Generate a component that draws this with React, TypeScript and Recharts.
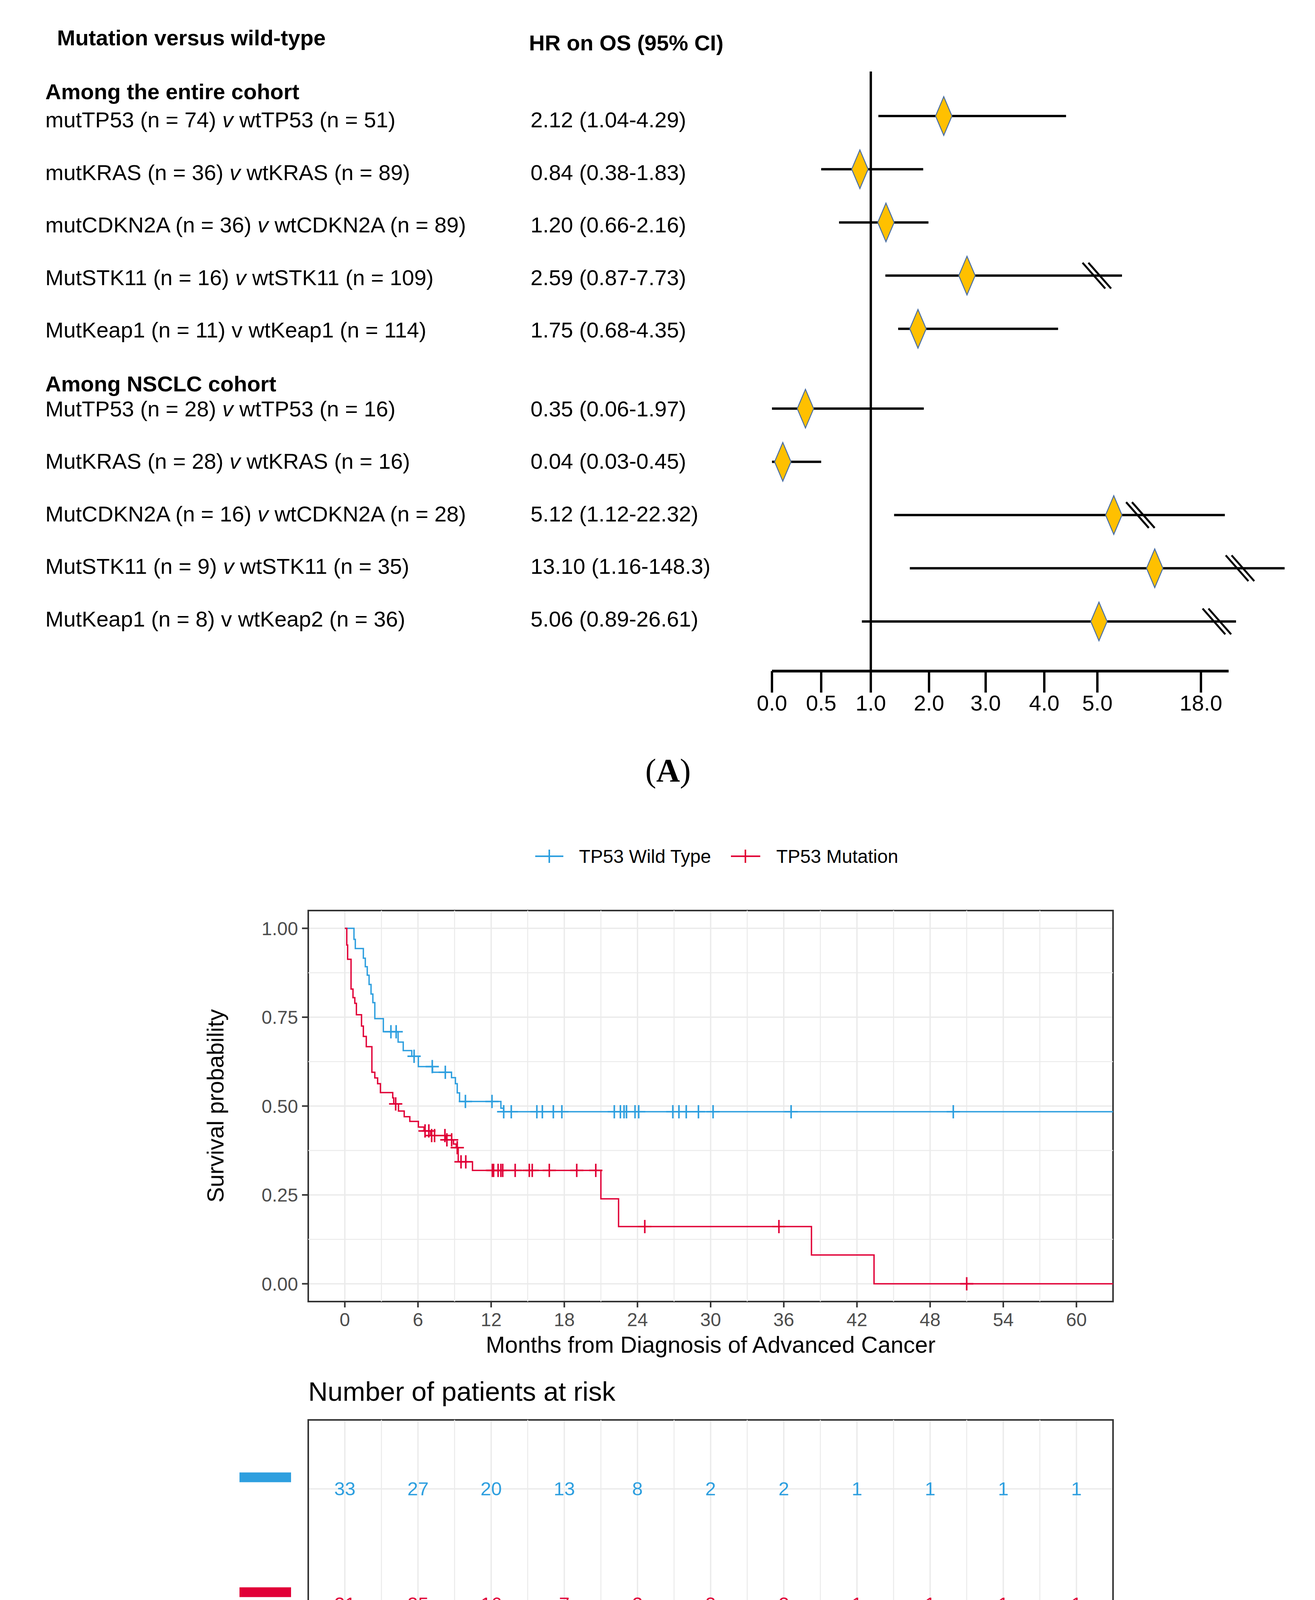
import React from 'react';
import {
  ComposedChart,
  ScatterChart,
  Scatter,
  Line,
  XAxis,
  YAxis,
  CartesianGrid,
  ReferenceLine,
  ReferenceArea,
} from 'recharts';

const FONT = "'Liberation Sans', Arial, Helvetica, sans-serif";
const SERIF = "'Liberation Serif', 'Times New Roman', serif";
const BLUE = '#2E9FDF';
const RED = '#E10037';
const GOLD = '#FFC000';
const DIAMOND_EDGE = '#4A6FA5';

// ---------------- Panel A (forest, entire + NSCLC cohort) ----------------
const panelAMut = [
  'mutTP53 (n = 74)', 'mutKRAS (n = 36)', 'mutCDKN2A (n = 36)', 'MutSTK11 (n = 16)', 'MutKeap1 (n = 11)',
  'MutTP53 (n = 28)', 'MutKRAS (n = 28)', 'MutCDKN2A (n = 16)', 'MutSTK11 (n = 9)', 'MutKeap1 (n = 8)',
];
const panelAWt = [
  'wtTP53 (n = 51)', 'wtKRAS (n = 89)', 'wtCDKN2A (n = 89)', 'wtSTK11 (n = 109)', 'wtKeap1 (n = 114)',
  'wtTP53 (n = 16)', 'wtKRAS (n = 16)', 'wtCDKN2A (n = 28)', 'wtSTK11 (n = 35)', 'wtKeap2 (n = 36)',
];
const panelAItalicV = [true, true, true, true, false, true, true, true, true, false];
const panelAValues = [
  '2.12 (1.04-4.29)', '0.84 (0.38-1.83)', '1.20 (0.66-2.16)', '2.59 (0.87-7.73)', '1.75 (0.68-4.35)',
  '0.35 (0.06-1.97)', '0.04 (0.03-0.45)', '5.12 (1.12-22.32)', '13.10 (1.16-148.3)', '5.06 (0.89-26.61)',
];
// HR, lower and upper ends as drawn in the figure
const panelAHr = [2.26, 0.89, 1.26, 2.67, 1.81, 0.34, 0.11, 7.06, 12.2, 5.2];
const panelALow = [1.13, 0.5, 0.68, 1.25, 1.47, 0.0, 0.0, 1.4, 1.67, 0.91];
const panelAHigh = [4.41, 1.9, 1.99, 8.09, 4.26, 1.91, 0.5, 21.0, 28.5, 22.4];
const panelABreak: (number | null)[] = [null, null, null, 4.99, null, null, null, 10.4, 22.9, 20.0];
const panelAGroups = [5, 5];
const panelATicks = [0, 0.5, 1, 2, 3, 4, 5, 18];
const panelATickLabels = ['0.0', '0.5', '1.0', '2.0', '3.0', '4.0', '5.0', '18.0'];
const panelATickPos = [0, 0.498, 1, 1.589, 2.162, 2.755, 3.292, 4.34];

// ---------------- Panel C (forest) ----------------
const panelCMut = ['mutTP53 (n = 24)', 'mutKRAS (n = 13)', 'mutCDKN2A (n = 14)', 'MutSTK11 (n = 7)'];
const panelCWt = ['wtTP53 (n = 25)', 'wtKRAS (n = 36)', 'wtCDKN2A (n = 35)', 'wtSTK11 (n = 42)'];
const panelCItalicV = [true, true, true, true];
const panelCValues = ['3.98 (1.14-13.91)', '1.40 (0.31-9.36)', '2.09 (0.57-7.61)', '0.55 (0.08-3.55)'];
const panelCHr = [3.69, 1.72, 2.19, 0.626];
const panelCLow = [1.25, 0.454, 0.607, 0.107];
const panelCHigh = [12.95, 9.25, 9.32, 3.49];
const panelCBreak: (number | null)[] = [10.24, 5.49, 5.69, null];
const panelCTicks = [0, 0.5, 1, 2, 3, 4, 5, 14];
const panelCTickLabels = ['0.0', '0.5', '1.0', '2.0', '3.0', '4.0', '5.0', '14.0'];
const panelCTickPos = [0, 0.489, 1, 1.584, 2.164, 2.748, 3.286, 4.336];

// ---------------- Panel B (Kaplan-Meier) ----------------
const kmXTicks = [0, 6, 12, 18, 24, 30, 36, 42, 48, 54, 60];
const kmXMinor = [3, 9, 15, 21, 27, 33, 39, 45, 51, 57];
const kmYTicks = [0, 0.25, 0.5, 0.75, 1];
const kmYMinor = [0.125, 0.375, 0.625, 0.875];

const wtTimes = [0, 0.75, 0.86, 1.52, 1.68, 1.84, 1.99, 2.15, 2.3, 2.46, 3.16, 4.37, 4.79, 5.49, 6.03, 7.2, 8.75, 9.07, 9.22, 9.41, 12.8, 13.03, 63];
const wtSurv = [1, 0.969, 0.943, 0.916, 0.892, 0.868, 0.842, 0.815, 0.791, 0.746, 0.709, 0.68, 0.656, 0.64, 0.611, 0.595, 0.58, 0.563, 0.537, 0.513, 0.494, 0.484, 0.484];
const wtCensor = [3.78, 4.21, 5.68, 7.17, 8.24, 9.89, 12.07, 13.03, 13.65, 15.75, 16.2, 17.1, 17.8, 22.1, 22.6, 22.9, 23.1, 23.8, 24.1, 26.9, 27.4, 28.0, 29.0, 30.2, 36.6, 49.9];

const mutTimes = [0, 0.16, 0.23, 0.51, 0.67, 0.82, 0.95, 1.37, 1.52, 1.76, 2.22, 2.46, 2.69, 2.92, 3.93, 4.01, 4.4, 4.87, 5.33, 6.03, 6.5, 7.04, 8.29, 8.91, 9.14, 9.3, 10.47, 21.0, 22.45, 38.27, 43.4, 63];
const mutSurv = [1, 0.953, 0.913, 0.829, 0.805, 0.789, 0.757, 0.725, 0.696, 0.667, 0.595, 0.579, 0.563, 0.538, 0.523, 0.506, 0.486, 0.47, 0.457, 0.441, 0.43, 0.417, 0.405, 0.393, 0.383, 0.343, 0.319, 0.239, 0.161, 0.081, 0, 0];
const mutCensor = [4.17, 6.58, 6.89, 7.12, 7.36, 8.21, 8.37, 8.76, 9.22, 9.53, 9.92, 12.1, 12.2, 12.57, 12.8, 12.95, 13.97, 15.13, 15.37, 16.77, 19.02, 20.58, 24.6, 35.6, 51.0];

const riskTimes = [0, 6, 12, 18, 24, 30, 36, 42, 48, 54, 60];
const riskWt = [33, 27, 20, 13, 8, 2, 2, 1, 1, 1, 1];
const riskMut = [21, 35, 16, 7, 2, 3, 2, 1, 1, 1, 1];

// ---------------- helpers ----------------
function toPos(v: number, ticks: number[], pos: number[]) {
  for (let i = 0; i < ticks.length - 1; i++) {
    if (v <= ticks[i + 1]) {
      const f = (v - ticks[i]) / (ticks[i + 1] - ticks[i]);
      return pos[i] + f * (pos[i + 1] - pos[i]);
    }
  }
  const n = ticks.length - 1;
  const slope = (pos[n] - pos[n - 1]) / (ticks[n] - ticks[n - 1]);
  return pos[n] + (v - ticks[n]) * slope;
}

function rowPositions(groups: number[]) {
  const out: number[] = [];
  let offset = 0;
  groups.forEach((g, gi) => {
    for (let k = 0; k < g; k++) out.push(out.length + offset);
    if (gi < groups.length - 1) offset += 0.5;
  });
  return out;
}

function survAt(times: number[], surv: number[], t: number) {
  let s = surv[0];
  for (let i = 0; i < times.length; i++) if (times[i] <= t) s = surv[i];
  return s;
}

const Empty = () => <g />;

const makeDiamond = (w: number, h: number) => (props: any) => {
  const { cx, cy } = props;
  if (cx == null || cy == null) return <g />;
  const pts = `${cx},${cy - h / 2} ${cx + w / 2},${cy} ${cx},${cy + h / 2} ${cx - w / 2},${cy}`;
  return <polygon points={pts} fill={GOLD} stroke={DIAMOND_EDGE} strokeWidth={2.5} />;
};

const makeBreak = (w: number, h: number, gap: number) => (props: any) => {
  const { cx, cy } = props;
  if (cx == null || cy == null) return <g />;
  return (
    <g>
      {[-gap / 2, gap / 2].map((o, i) => (
        <line key={i} x1={cx + o - w / 2} y1={cy - h / 2} x2={cx + o + w / 2} y2={cy + h / 2} stroke="#000" strokeWidth={5} />
      ))}
    </g>
  );
};

const makePlus = (color: string) => (props: any) => {
  const { cx, cy } = props;
  if (cx == null || cy == null) return <g />;
  return (
    <g>
      <line x1={cx - 17} x2={cx + 17} y1={cy} y2={cy} stroke={color} strokeWidth={4} />
      <line x1={cx} x2={cx} y1={cy - 17} y2={cy + 17} stroke={color} strokeWidth={4} />
    </g>
  );
};

const makeRiskText = (color: string) => (props: any) => {
  const { cx, cy, payload } = props;
  if (cx == null || cy == null) return <g />;
  return (
    <text x={cx} y={cy} textAnchor="middle" dominantBaseline="central" fontSize={49} fontFamily={FONT} fill={color}>
      {payload.n}
    </text>
  );
};

// ---------------- Forest plot ----------------
type ForestProps = {
  top: number;
  width: number;
  height: number;
  margin: { top: number; left: number; right: number; bottom: number };
  xMax: number;
  yDom: [number, number];
  axisEnd: number;
  hr: number[];
  low: number[];
  high: number[];
  brk: (number | null)[];
  rowPos: number[];
  ticks: number[];
  tickPos: number[];
  tickLabels: string[];
  tickSize: number;
  labelDy: number;
  xAxisHeight: number;
  diamond: [number, number];
  brkShape: [number, number, number];
};

function ForestPlot(p: ForestProps) {
  const rows = p.hr.map((h, i) => ({
    i,
    y: p.rowPos[i],
    hr: toPos(h, p.ticks, p.tickPos),
    lo: toPos(p.low[i], p.ticks, p.tickPos),
    hi: toPos(p.high[i], p.ticks, p.tickPos),
    br: p.brk[i] == null ? null : toPos(p.brk[i] as number, p.ticks, p.tickPos),
  }));
  const ForestTick = (tp: any) => {
    const idx = p.tickPos.findIndex((v) => Math.abs(v - tp.payload.value) < 1e-6);
    return (
      <text x={tp.x} y={tp.y + p.labelDy} textAnchor="middle" fontSize={56} fontFamily={FONT} fill="#000">
        {idx >= 0 ? p.tickLabels[idx] : ''}
      </text>
    );
  };
  const diamond = makeDiamond(p.diamond[0], p.diamond[1]);
  const brkShape = makeBreak(p.brkShape[0], p.brkShape[1], p.brkShape[2]);
  return (
    <div style={{ position: 'absolute', left: 0, top: p.top }}>
      <ScatterChart width={p.width} height={p.height} margin={p.margin}>
        <XAxis
          type="number"
          dataKey="x"
          domain={[0, p.xMax]}
          allowDataOverflow
          ticks={p.tickPos}
          interval={0}
          tickSize={p.tickSize}
          tickMargin={0}
          axisLine={false}
          stroke="#000"
          tickLine={{ stroke: '#000', strokeWidth: 6 }}
          height={p.xAxisHeight}
          tick={<ForestTick />}
        />
        <YAxis type="number" dataKey="y" domain={p.yDom} allowDataOverflow reversed hide />
        <ReferenceLine x={1} stroke="#000" strokeWidth={6} ifOverflow="visible" />
        <ReferenceLine
          segment={[{ x: 0, y: p.yDom[1] }, { x: p.axisEnd, y: p.yDom[1] }]}
          stroke="#000"
          strokeWidth={7}
          ifOverflow="visible"
        />
        {rows.map((r) => (
          <Scatter
            key={'ci' + r.i}
            data={[{ x: r.lo, y: r.y }, { x: r.hi, y: r.y }]}
            line={{ stroke: '#000', strokeWidth: 6 }}
            shape={Empty}
            isAnimationActive={false}
          />
        ))}
        <Scatter
          data={rows.filter((r) => r.br != null).map((r) => ({ x: r.br, y: r.y }))}
          shape={brkShape}
          isAnimationActive={false}
        />
        <Scatter data={rows.map((r) => ({ x: r.hr, y: r.y }))} shape={diamond} isAnimationActive={false} />
      </ScatterChart>
    </div>
  );
}

function RowLabel({ x, y, size, mut, wt, italic }: any) {
  return (
    <text x={x} y={y} fontSize={size} fontFamily={FONT} fill="#000" style={{ whiteSpace: 'pre' }}>
      {mut + ' '}
      <tspan fontStyle={italic ? 'italic' : 'normal'}>v</tspan>
      {' ' + wt}
    </text>
  );
}

// ---------------- App ----------------
export default function App() {
  const rowPosA = rowPositions(panelAGroups);
  const rowPosC = rowPositions([4]);

  const wtData = wtTimes.map((t, i) => ({ t, s: wtSurv[i] }));
  const mutData = mutTimes.map((t, i) => ({ t, s: mutSurv[i] }));
  const wtCensorData = wtCensor.map((t) => ({ t, s: survAt(wtTimes, wtSurv, t) }));
  const mutCensorData = mutCensor.map((t) => ({ t, s: survAt(mutTimes, mutSurv, t) }));
  const riskWtData = riskTimes.map((t, i) => ({ t, row: 2, n: riskWt[i] }));
  const riskMutData = riskTimes.map((t, i) => ({ t, row: 1, n: riskMut[i] }));

  const kmTick = { fill: '#4D4D4D', fontSize: 48, fontFamily: FONT };
  const kmTickLine = { stroke: '#333333', strokeWidth: 4 };

  const RiskYTick = (tp: any) => (
    <rect x={tp.x - 176} y={tp.y - 42} width={132} height={25} fill={tp.payload.value === 2 ? BLUE : RED} />
  );

  const textCenterA = (pos: number) => 308 + 134.5 * pos;
  const textCenterC = (i: number) => 4806 + 141 * i;

  return (
    <div style={{ position: 'absolute', left: 0, top: 0, width: 3366, height: 5641, background: '#fff' }}>
      <svg width={3366} height={5641} style={{ position: 'absolute', left: 0, top: 0 }}>
        {/* Panel A text */}
        <text x={146} y={116} fontSize={56} fontWeight="bold" fontFamily={FONT}>Mutation versus wild-type</text>
        <text x={1354} y={129} fontSize={56} fontWeight="bold" fontFamily={FONT}>HR on OS (95% CI)</text>
        <text x={116} y={254} fontSize={56} fontWeight="bold" fontFamily={FONT}>Among the entire cohort</text>
        <text x={116} y={1002} fontSize={56} fontWeight="bold" fontFamily={FONT}>Among NSCLC cohort</text>
        {panelAMut.map((m, i) => (
          <RowLabel key={'al' + i} x={116} y={textCenterA(rowPosA[i]) + 18} size={56} mut={m} wt={panelAWt[i]} italic={panelAItalicV[i]} />
        ))}
        {panelAValues.map((v, i) => (
          <text key={'av' + i} x={1358} y={textCenterA(rowPosA[i]) + 18} fontSize={56} fontFamily={FONT}>{v}</text>
        ))}
        <text x={1710} y={2001} fontSize={84} fontFamily={SERIF} textAnchor="middle">(<tspan fontWeight="bold">A</tspan>)</text>

        {/* Panel B text */}
        <line x1={1370} x2={1442} y1={2192} y2={2192} stroke={BLUE} strokeWidth={4} />
        <line x1={1406} x2={1406} y1={2175} y2={2209} stroke={BLUE} strokeWidth={4} />
        <text x={1482} y={2209} fontSize={48} fontFamily={FONT}>TP53 Wild Type</text>
        <line x1={1871} x2={1946} y1={2192} y2={2192} stroke={RED} strokeWidth={4} />
        <line x1={1908} x2={1908} y1={2175} y2={2209} stroke={RED} strokeWidth={4} />
        <text x={1987} y={2209} fontSize={48} fontFamily={FONT}>TP53 Mutation</text>
        <text x={552} y={2831} fontSize={59} fontFamily={FONT} textAnchor="middle" dominantBaseline="central" transform="rotate(-90, 552, 2831)">
          Survival probability
        </text>
        <text x={1819} y={3463} fontSize={59} fontFamily={FONT} textAnchor="middle">Months from Diagnosis of Advanced Cancer</text>
        <text x={789} y={3586} fontSize={69} fontFamily={FONT}>Number of patients at risk</text>
        <text x={1819} y={4413} fontSize={59} fontFamily={FONT} textAnchor="middle">Months from Diagnosis of Advanced Cancer</text>
        <text x={1710} y={4582} fontSize={84} fontFamily={SERIF} textAnchor="middle">(<tspan fontWeight="bold">B</tspan>)</text>

        {/* Panel C text */}
        <text x={163} y={4684} fontSize={58.5} fontWeight="bold" fontFamily={FONT}>Mutation versus wild-type</text>
        <text x={1419} y={4694} fontSize={58.5} fontWeight="bold" fontFamily={FONT}>HR on OS (95% CI)</text>
        {panelCMut.map((m, i) => (
          <RowLabel key={'cl' + i} x={131} y={textCenterC(i) + 19} size={58.5} mut={m} wt={panelCWt[i]} italic={panelCItalicV[i]} />
        ))}
        {panelCValues.map((v, i) => (
          <text key={'cv' + i} x={1419} y={textCenterC(i) + 19} fontSize={58.5} fontFamily={FONT}>{v}</text>
        ))}
        <text x={1710} y={5582} fontSize={84} fontFamily={SERIF} textAnchor="middle">(<tspan fontWeight="bold">C</tspan>)</text>
      </svg>

      {/* Panel A forest */}
      <ForestPlot
        top={0}
        width={3366}
        height={1900}
        margin={{ top: 183, left: 1976, right: 66, bottom: 32 }}
        xMax={5.233}
        yDom={[-0.837, 10.433]}
        axisEnd={4.62}
        hr={panelAHr}
        low={panelALow}
        high={panelAHigh}
        brk={panelABreak}
        rowPos={rowPosA}
        ticks={panelATicks}
        tickPos={panelATickPos}
        tickLabels={panelATickLabels}
        tickSize={55}
        labelDy={46}
        xAxisHeight={150}
        diamond={[42, 99]}
        brkShape={[58, 66, 15]}
      />

      {/* Panel B: KM curves */}
      <div style={{ position: 'absolute', left: 0, top: 2100 }}>
        <ComposedChart width={2900} height={1400} margin={{ top: 231, right: 51, left: 0, bottom: 68 }}>
          <CartesianGrid stroke="#EBEBEB" strokeWidth={3.5} />
          {kmXMinor.map((x) => (
            <ReferenceLine key={'kx' + x} x={x} stroke="#EBEBEB" strokeWidth={2.5} />
          ))}
          {kmYMinor.map((y) => (
            <ReferenceLine key={'ky' + y} y={y} stroke="#EBEBEB" strokeWidth={2.5} />
          ))}
          <XAxis type="number" dataKey="t" domain={[-3, 63]} allowDataOverflow ticks={kmXTicks} interval={0} tickSize={15} tickMargin={14} axisLine={false} stroke="#333333" tickLine={kmTickLine} tick={kmTick} height={100} />
          <YAxis type="number" dataKey="s" domain={[-0.05, 1.05]} allowDataOverflow ticks={kmYTicks} interval={0} tickFormatter={(v: number) => v.toFixed(2)} width={789} tickSize={16} tickMargin={10} axisLine={false} stroke="#333333" tickLine={kmTickLine} tick={kmTick} />
          <Line data={wtData} dataKey="s" type="stepAfter" stroke={BLUE} strokeWidth={3.5} dot={false} isAnimationActive={false} />
          <Line data={mutData} dataKey="s" type="stepAfter" stroke={RED} strokeWidth={3.5} dot={false} isAnimationActive={false} />
          <Scatter data={wtCensorData} dataKey="s" shape={makePlus(BLUE)} isAnimationActive={false} />
          <Scatter data={mutCensorData} dataKey="s" shape={makePlus(RED)} isAnimationActive={false} />
          <ReferenceArea x1={-3} x2={63} y1={-0.05} y2={1.05} fill="none" fillOpacity={0} stroke="#333333" strokeWidth={4} ifOverflow="visible" />
        </ComposedChart>
      </div>

      {/* Panel B: risk table */}
      <div style={{ position: 'absolute', left: 0, top: 3600 }}>
        <ComposedChart width={2900} height={900} margin={{ top: 35, right: 51, left: 0, bottom: 118 }}>
          <CartesianGrid stroke="#EBEBEB" strokeWidth={3.5} />
          {kmXMinor.map((x) => (
            <ReferenceLine key={'rx' + x} x={x} stroke="#EBEBEB" strokeWidth={2.5} />
          ))}
          <XAxis type="number" dataKey="t" domain={[-3, 63]} allowDataOverflow ticks={kmXTicks} interval={0} tickSize={15} tickMargin={14} axisLine={false} stroke="#333333" tickLine={kmTickLine} tick={kmTick} height={100} />
          <YAxis type="number" dataKey="row" domain={[0.4, 2.6]} allowDataOverflow ticks={[1, 2]} interval={0} width={789} tickSize={0} tickMargin={0} axisLine={false} tickLine={false} tick={<RiskYTick />} />
          <Scatter data={riskWtData} dataKey="row" shape={makeRiskText(BLUE)} isAnimationActive={false} />
          <Scatter data={riskMutData} dataKey="row" shape={makeRiskText(RED)} isAnimationActive={false} />
          <ReferenceArea x1={-3} x2={63} y1={0.4} y2={2.6} fill="none" fillOpacity={0} stroke="#333333" strokeWidth={4} ifOverflow="visible" />
        </ComposedChart>
      </div>

      {/* Panel C forest */}
      <ForestPlot
        top={4600}
        width={3366}
        height={900}
        margin={{ top: 154, left: 2063, right: 72, bottom: 30 }}
        xMax={4.7}
        yDom={[-0.331, 3.71]}
        axisEnd={4.622}
        hr={panelCHr}
        low={panelCLow}
        high={panelCHigh}
        brk={panelCBreak}
        rowPos={rowPosC}
        ticks={panelCTicks}
        tickPos={panelCTickPos}
        tickLabels={panelCTickLabels}
        tickSize={52}
        labelDy={51}
        xAxisHeight={130}
        diamond={[45, 100]}
        brkShape={[56, 69, 24]}
      />
    </div>
  );
}
